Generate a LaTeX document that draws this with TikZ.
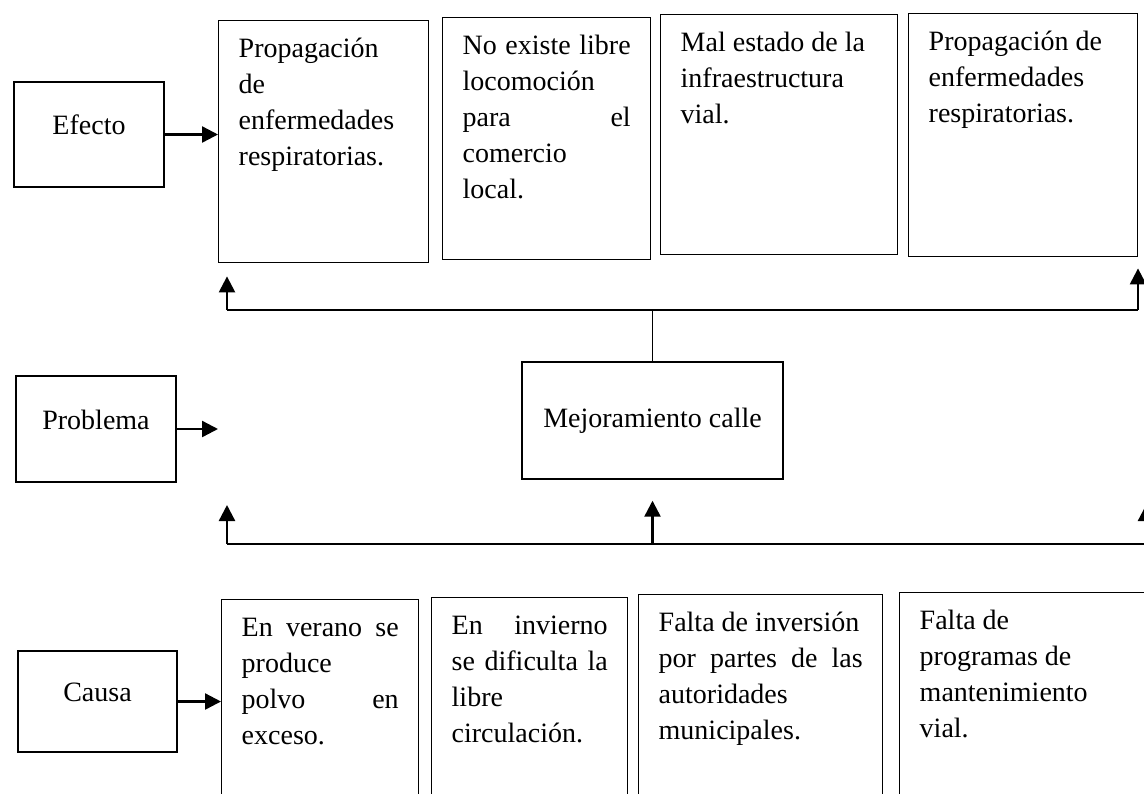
\documentclass[tikz,border=0pt]{standalone}
\usepackage{fontspec}
\setmainfont{Liberation Serif}
\usetikzlibrary{arrows.meta}

\newcommand{\cajatxt}[3]{\parbox[c][#2][t]{#1}{\strut#3}}
\newcommand{\just}[1]{\makebox[\linewidth][s]{#1}}

\tikzset{
  caja/.style={draw, line width=0.7pt, anchor=north west, inner xsep=10pt, inner ysep=6pt},
  etiqueta/.style={draw, line width=0.7pt, text height=10pt, text depth=10pt},
  rama/.style={line width=0.8pt},
  flecha/.style={line width=1.2pt, -{Triangle[length=8pt,width=8pt]}}
}

\begin{document}
\begin{tikzpicture}[x=0.5pt, y=-0.5pt, font=\fontsize{14pt}{18pt}\selectfont]
  \useasboundingbox (0,0) rectangle (1144,793);

  \node[etiqueta, minimum width=75pt, minimum height=52.5pt] (efecto) at (89,134.5) {Efecto};
  \node[etiqueta, minimum width=80pt, minimum height=53pt] (problema) at (96,429) {Problema};
  \node[etiqueta, minimum width=79.5pt, minimum height=50.5pt] (causa) at (97.5,701.5) {Causa};

  \node[caja] (e1) at (218,20) {\cajatxt{85pt}{109pt}{Propagación\\de\\enfermedades\\respiratorias.}};
  \node[caja] (e2) at (442,17) {\cajatxt{84pt}{109pt}{\just{No existe libre}\\locomoción\\\just{para el}\\comercio\\local.}};
  \node[caja] (e3) at (660,14) {\cajatxt{98.5pt}{108pt}{Mal estado de la\\infraestructura\\vial.}};
  \node[caja] (e4) at (908,13) {\cajatxt{94.5pt}{109.5pt}{Propagación de\\enfermedades\\respiratorias.}};

  \node[draw, line width=0.7pt, minimum width=130.5pt, minimum height=58.5pt] (mejora) at (652.5,420.5) {Mejoramiento calle};

  \node[caja] (c1) at (221,599) {\cajatxt{78.5pt}{100pt}{\just{En verano se}\\produce\\\just{polvo en}\\exceso.}};
  \node[caja] (c2) at (431,597) {\cajatxt{78pt}{100pt}{\just{En invierno}\\\just{se dificulta la}\\libre\\circulación.}};
  \node[caja] (c3) at (638,594) {\cajatxt{102pt}{100pt}{Falta de inversión\\\just{por partes de las}\\autoridades\\municipales.}};
  \node[caja] (c4) at (899,592) {\cajatxt{110pt}{100pt}{Falta de\\programas de\\mantenimiento\\vial.}};

  \draw[flecha] (efecto.east) -- (efecto.east -| e1.west);
  \draw[flecha] (problema.east) -- (problema.east -| e1.west);
  \draw[flecha] (causa.east) -- (causa.east -| c1.west);

  \coordinate (sup1) at (227,310);
  \coordinate (sup2) at (1138,310);
  \draw[rama] (sup1) -- (sup2);
  \draw[rama] (mejora.north) -- (mejora.north |- sup1);
  \draw[flecha, shorten >=6.5pt] (sup1) -- (sup1 |- e1.south);
  \draw[flecha, shorten >=5.5pt] (sup2) -- (sup2 |- e4.south);

  \coordinate (inf1) at (227,544);
  \coordinate (inf2) at (1146,544);
  \coordinate (pinf1) at (227,505);
  \coordinate (pinf2) at (1146,505);
  \draw[rama] (inf1) -- (inf2);
  \draw[flecha] (inf1) -- (pinf1);
  \draw[flecha, shorten >=10.5pt] (mejora.south |- inf1) -- (mejora.south);
  \draw[flecha] (inf2) -- (pinf2);
\end{tikzpicture}
\end{document}
